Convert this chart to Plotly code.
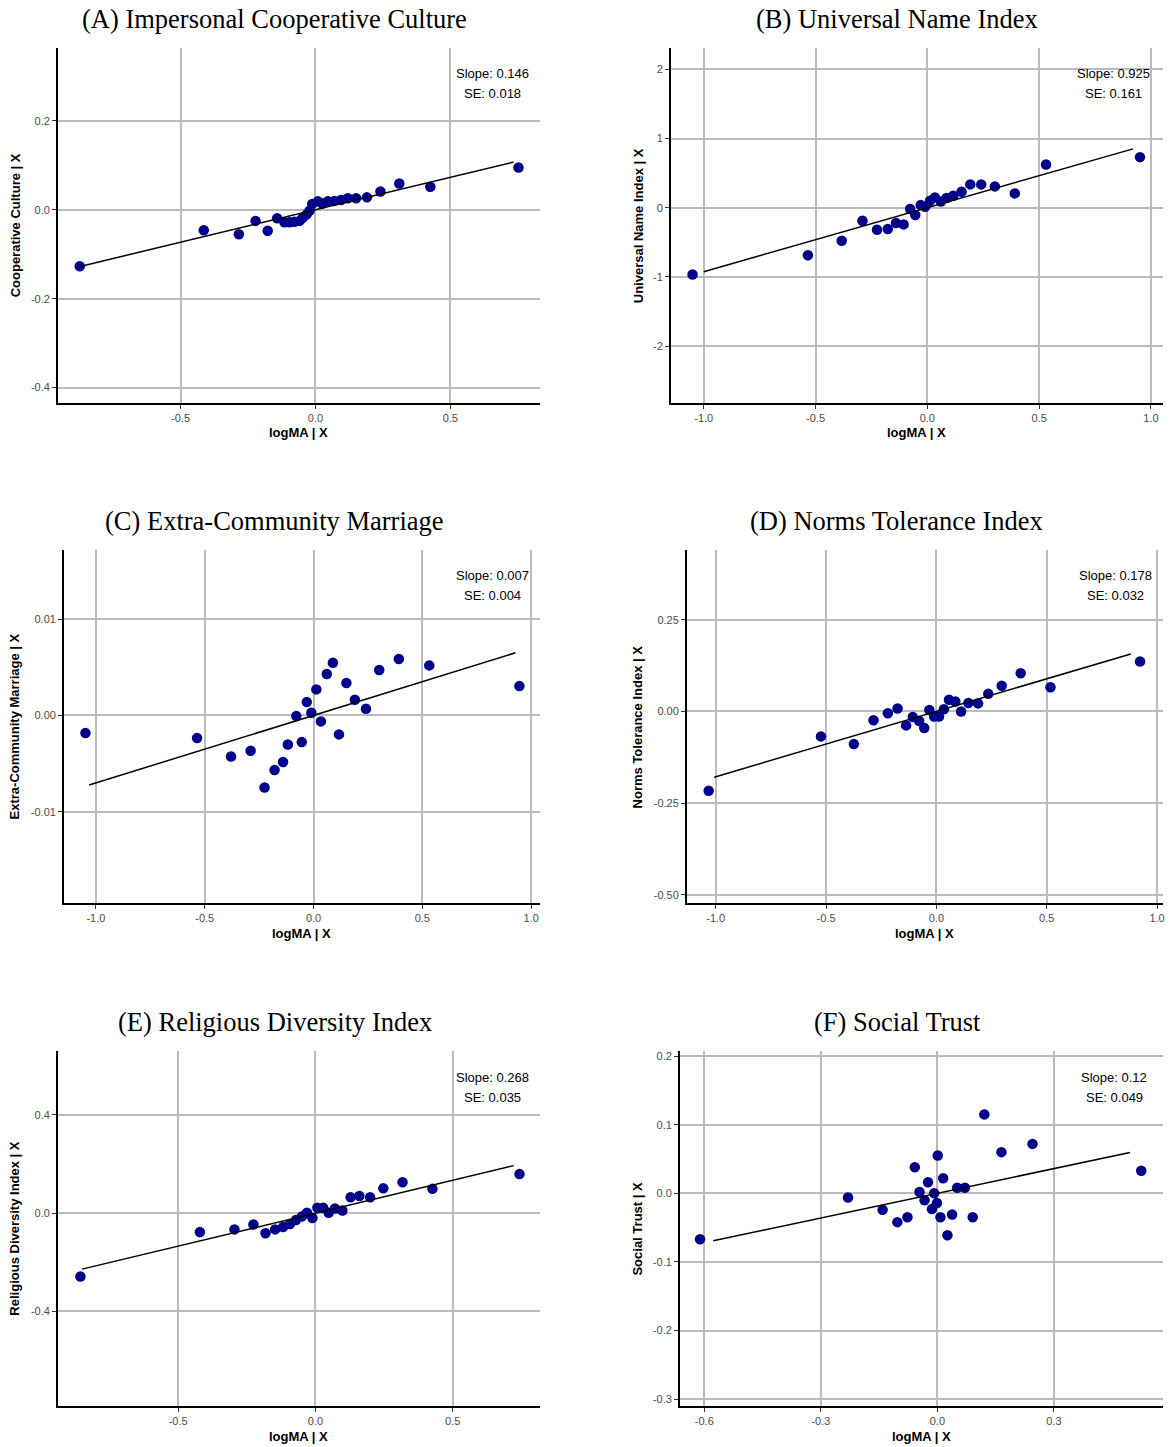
import plotly.graph_objects as go
from plotly.subplots import make_subplots

# ---- Added-variable data: residualised logMA (x) vs residualised outcome (y) ----
coop_x = [-0.874, -0.414, -0.284, -0.222, -0.177, -0.142, -0.115, -0.096, -0.078, -0.059,
          -0.047, -0.032, -0.022, -0.012, 0.009, 0.025, 0.046, 0.070, 0.095, 0.120,
          0.151, 0.191, 0.241, 0.311, 0.426, 0.753]
coop_y = [-0.127, -0.046, -0.055, -0.025, -0.047, -0.019, -0.028, -0.028, -0.027, -0.025,
          -0.018, -0.010, -0.002, 0.013, 0.019, 0.014, 0.019, 0.020, 0.022, 0.026,
          0.026, 0.028, 0.041, 0.059, 0.052, 0.095]

name_x = [-1.050, -0.534, -0.383, -0.290, -0.225, -0.177, -0.140, -0.106, -0.077, -0.054,
          -0.030, -0.010, 0.012, 0.034, 0.061, 0.086, 0.116, 0.153, 0.192, 0.241,
          0.302, 0.391, 0.531, 0.951]
name_y = [-0.966, -0.688, -0.477, -0.188, -0.318, -0.308, -0.221, -0.241, -0.019, -0.106,
          0.038, 0.014, 0.101, 0.149, 0.091, 0.140, 0.173, 0.231, 0.337, 0.337,
          0.308, 0.207, 0.625, 0.731]

marr_x = [-1.048, -0.535, -0.379, -0.289, -0.225, -0.179, -0.140, -0.118, -0.079, -0.054,
          -0.031, -0.010, 0.013, 0.034, 0.061, 0.089, 0.117, 0.151, 0.190, 0.241,
          0.302, 0.392, 0.532, 0.946]
marr_y = [-0.00183, -0.00235, -0.00426, -0.00367, -0.00747, -0.00567, -0.00484, -0.00301,
          -0.00007, -0.00277, 0.00138, 0.00028, 0.00270, -0.00062, 0.00429, 0.00547,
          -0.00197, 0.00336, 0.00163, 0.00069, 0.00471, 0.00585, 0.00519, 0.00304]

norm_x = [-1.032, -0.523, -0.374, -0.285, -0.220, -0.176, -0.137, -0.107, -0.078, -0.055,
          -0.032, -0.010, 0.012, 0.034, 0.057, 0.086, 0.112, 0.145, 0.189, 0.235,
          0.296, 0.382, 0.517, 0.923]
norm_y = [-0.216, -0.068, -0.089, -0.024, -0.005, 0.008, -0.038, -0.015, -0.026, -0.045,
          0.004, -0.014, -0.014, 0.006, 0.032, 0.027, 0.000, 0.023, 0.022, 0.048,
          0.070, 0.104, 0.066, 0.136]

relig_x = [-0.856, -0.421, -0.295, -0.226, -0.182, -0.147, -0.118, -0.093, -0.071, -0.050,
           -0.031, -0.011, 0.007, 0.028, 0.048, 0.071, 0.098, 0.128, 0.160, 0.199,
           0.247, 0.317, 0.426, 0.743]
relig_y = [-0.258, -0.077, -0.066, -0.046, -0.082, -0.066, -0.056, -0.044, -0.028, -0.014,
           0.002, -0.020, 0.022, 0.022, 0.002, 0.019, 0.011, 0.065, 0.070, 0.065,
           0.101, 0.126, 0.099, 0.159]

trust_x = [-0.611, -0.230, -0.141, -0.103, -0.077, -0.058, -0.046, -0.033, -0.024, -0.014,
           -0.008, -0.001, 0.001, 0.008, 0.015, 0.026, 0.038, 0.051, 0.071, 0.091,
           0.121, 0.165, 0.245, 0.525]
trust_y = [-0.067, -0.006, -0.024, -0.042, -0.035, 0.038, 0.002, -0.010, 0.016, -0.023,
           0.000, -0.014, 0.055, -0.035, 0.022, -0.061, -0.031, 0.008, 0.008, -0.035,
           0.115, 0.060, 0.072, 0.033]

# Regression slopes and standard errors shown in each panel
slopes = [0.146, 0.925, 0.007, 0.178, 0.268, 0.12]
slope_labels = ["0.146", "0.925", "0.007", "0.178", "0.268", "0.12"]
se_labels = ["0.018", "0.161", "0.004", "0.032", "0.035", "0.049"]

# x-extent of each fitted line
fit_spans = [(-0.865, 0.735), (-1.0, 0.92), (-1.031, 0.928),
             (-1.007, 0.881), (-0.850, 0.722), (-0.577, 0.496)]

titles = ["(A) Impersonal Cooperative Culture", "(B) Universal Name Index",
          "(C) Extra-Community Marriage", "(D) Norms Tolerance Index",
          "(E) Religious Diversity Index", "(F) Social Trust"]
y_titles = ["Cooperative Culture | X", "Universal Name Index | X",
            "Extra-Community Marriage | X", "Norms Tolerance Index | X",
            "Religious Diversity Index | X", "Social Trust | X"]
x_title = "logMA | X"

x_ticks = [[-0.5, 0.0, 0.5], [-1.0, -0.5, 0.0, 0.5, 1.0], [-1.0, -0.5, 0.0, 0.5, 1.0],
           [-1.0, -0.5, 0.0, 0.5, 1.0], [-0.5, 0.0, 0.5], [-0.6, -0.3, 0.0, 0.3]]
x_ticktext = [["-0.5", "0.0", "0.5"], ["-1.0", "-0.5", "0.0", "0.5", "1.0"],
              ["-1.0", "-0.5", "0.0", "0.5", "1.0"], ["-1.0", "-0.5", "0.0", "0.5", "1.0"],
              ["-0.5", "0.0", "0.5"], ["-0.6", "-0.3", "0.0", "0.3"]]
y_ticks = [[-0.4, -0.2, 0.0, 0.2], [-2, -1, 0, 1, 2], [-0.01, 0.0, 0.01],
           [-0.5, -0.25, 0.0, 0.25], [-0.4, 0.0, 0.4], [-0.3, -0.2, -0.1, 0.0, 0.1, 0.2]]
y_ticktext = [["-0.4", "-0.2", "0.0", "0.2"], ["-2", "-1", "0", "1", "2"],
              ["-0.01", "0.00", "0.01"], ["-0.50", "-0.25", "0.00", "0.25"],
              ["-0.4", "0.0", "0.4"], ["-0.3", "-0.2", "-0.1", "0.0", "0.1", "0.2"]]

xs = [coop_x, name_x, marr_x, norm_x, relig_x, trust_x]
ys = [coop_y, name_y, marr_y, norm_y, relig_y, trust_y]

# ---- Layout geometry (pixels in a 1172 x 1447 canvas) ----
W, H = 1172, 1447
# plot-area boxes: left, right, top, bottom
boxes = [(58, 541, 47, 402), (672, 1165, 47, 402),
         (64, 541, 549, 903), (688, 1165, 549, 903),
         (58, 541, 1051, 1406), (681, 1165, 1051, 1406)]
x_ranges = [(-0.955, 0.833), (-1.147, 1.054), (-1.147, 1.041),
            (-1.131, 1.027), (-0.938, 0.818), (-0.663, 0.581)]
y_ranges = [(-0.434, 0.364), (-2.82, 2.31), (-0.0195, 0.0172),
            (-0.523, 0.441), (-0.785, 0.659), (-0.310, 0.207)]
title_cx = [275, 899, 275, 898, 275, 899]
title_cy = [18, 18, 520, 520, 1022, 1022]
ytitle_cx = [15, 639, 15, 639, 15, 639]
note_cx = [493, 1115, 493, 1117, 493, 1116]

SANS = "Liberation Sans, Arial, sans-serif"
SERIF = "Liberation Serif, Times New Roman, serif"

fig = make_subplots(rows=3, cols=2)

annotations = []
for i in range(6):
    r, c = i // 2 + 1, i % 2 + 1
    fig.add_trace(go.Scatter(
        x=xs[i], y=ys[i], mode="markers",
        marker=dict(color="#00008B", size=10.5, line=dict(width=0)),
        showlegend=False, hoverinfo="x+y"), row=r, col=c)
    x0, x1 = fit_spans[i]
    fig.add_trace(go.Scatter(
        x=[x0, x1], y=[slopes[i] * x0, slopes[i] * x1], mode="lines",
        line=dict(color="black", width=1.5),
        showlegend=False, hoverinfo="skip"), row=r, col=c)

    L, R, T, B = boxes[i]
    ax = "" if i == 0 else str(i + 1)
    fig.layout["xaxis" + ax].update(
        domain=[L / W, R / W], range=list(x_ranges[i]),
        tickvals=x_ticks[i], ticktext=x_ticktext[i],
        showgrid=True, gridcolor="#BBBBBB", gridwidth=2, zeroline=False,
        showline=True, linecolor="black", linewidth=1.6,
        ticks="outside", ticklen=4, tickcolor="#333333", tickwidth=1,
        tickfont=dict(family=SANS, size=11, color="#4D4D4D"))
    fig.layout["yaxis" + ax].update(
        domain=[1 - B / H, 1 - T / H], range=list(y_ranges[i]),
        tickvals=y_ticks[i], ticktext=y_ticktext[i],
        showgrid=True, gridcolor="#BBBBBB", gridwidth=2, zeroline=False,
        showline=True, linecolor="black", linewidth=1.6,
        ticks="outside", ticklen=4, tickcolor="#333333", tickwidth=1,
        tickfont=dict(family=SANS, size=11, color="#4D4D4D"))

    # panel title
    annotations.append(dict(
        text=titles[i], x=title_cx[i] / W, y=1 - title_cy[i] / H,
        xref="paper", yref="paper", xanchor="center", yanchor="middle",
        showarrow=False, font=dict(family=SERIF, size=26.5, color="black")))
    # x-axis title
    annotations.append(dict(
        text="<b>" + x_title + "</b>", x=(L + R) / 2 / W, y=1 - (B + 30) / H,
        xref="paper", yref="paper", xanchor="center", yanchor="middle",
        showarrow=False, font=dict(family=SANS, size=13, color="black")))
    # y-axis title
    annotations.append(dict(
        text="<b>" + y_titles[i] + "</b>", x=ytitle_cx[i] / W, y=1 - (T + B) / 2 / H,
        xref="paper", yref="paper", xanchor="center", yanchor="middle",
        textangle=-90, showarrow=False,
        font=dict(family=SANS, size=13, color="black")))
    # slope / SE note
    annotations.append(dict(
        text="Slope: " + slope_labels[i], x=note_cx[i] / W, y=1 - (T + 26) / H,
        xref="paper", yref="paper", xanchor="center", yanchor="middle",
        showarrow=False, font=dict(family=SANS, size=13, color="black")))
    annotations.append(dict(
        text="SE: " + se_labels[i], x=note_cx[i] / W, y=1 - (T + 46) / H,
        xref="paper", yref="paper", xanchor="center", yanchor="middle",
        showarrow=False, font=dict(family=SANS, size=13, color="black")))

fig.update_layout(
    width=W, height=H, margin=dict(l=0, r=0, t=0, b=0),
    paper_bgcolor="white", plot_bgcolor="white",
    annotations=annotations)

fig.write_html("out.html")
